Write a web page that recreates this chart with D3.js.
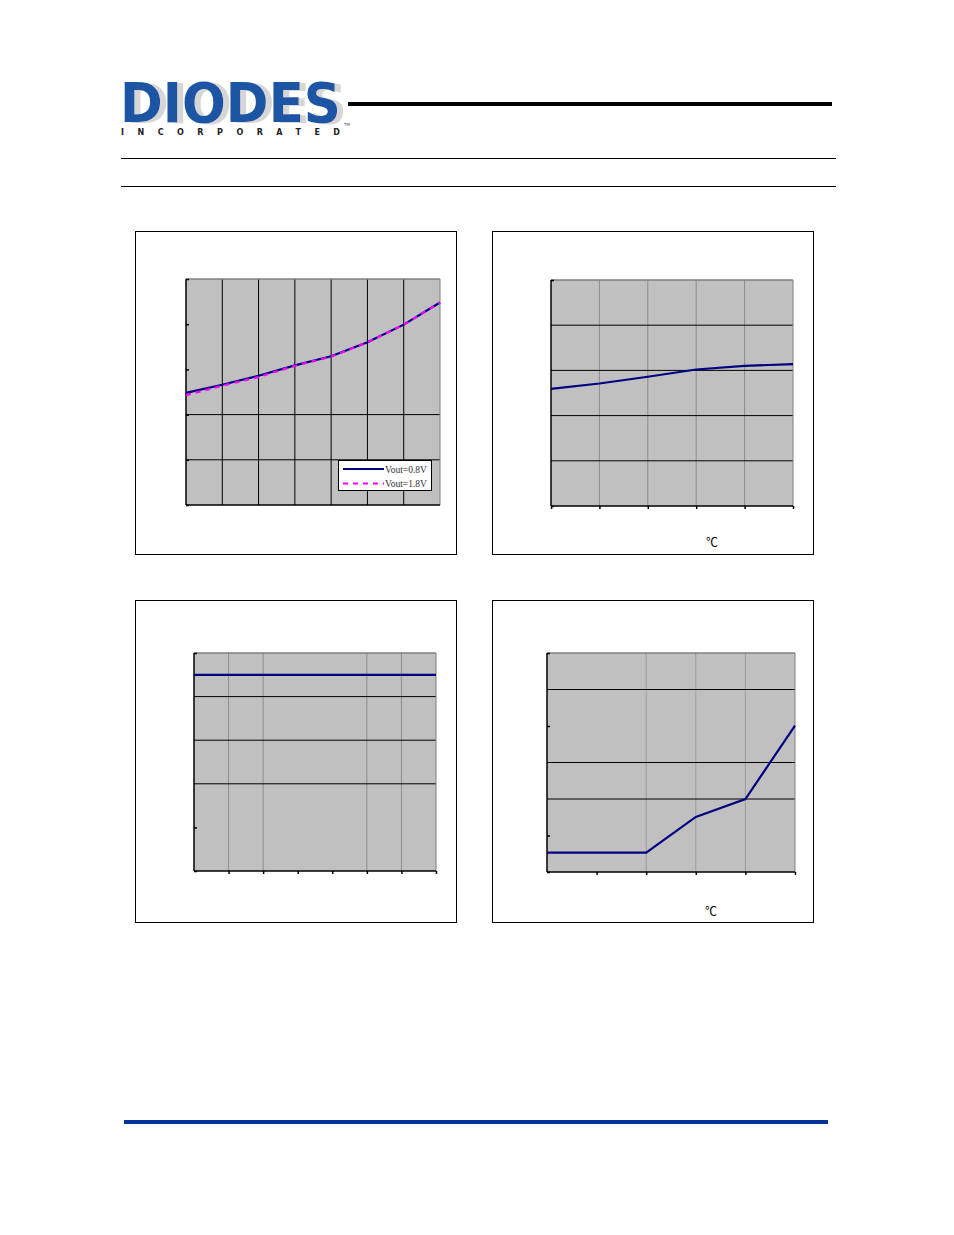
<!DOCTYPE html>
<html><head><meta charset="utf-8">
<script src="https://cdn.jsdelivr.net/npm/d3@7"></script>
<style>body{margin:0;background:#fff}svg{display:block}</style>
</head><body>
<script>
// ---- data (units are relative; the reference shows no tick labels) ----
const c1X = [0,1,2,3,4,5,6,7];
const c1Vout08 = [2.48,2.66,2.86,3.09,3.29,3.60,3.99,4.48];
const c1Vout18 = [2.43,2.64,2.83,3.08,3.28,3.60,3.99,4.48];
const c1Legend = ["Vout=0.8V","Vout=1.8V"];
const c2X = [0,1,2,3,4,5];
const c2Y = [2.59,2.71,2.86,3.02,3.10,3.14];
const c3X = [0,1,2,3,4,5,6,7];
const c3Y = [4.5,4.5,4.5,4.5,4.5,4.5,4.5,4.5];
const c4X = [0,1,2,3,4,5];
const c4Y = [0.53,0.53,0.53,1.51,2.0,4.01];
const unitLabel = "\u2103";

const W=954,H=1235;
const svg=d3.select("body").append("svg").attr("width",W).attr("height",H);

// ---- header ----
const defs=svg.append("defs");
const f=defs.append("filter").attr("id","sh").attr("x","-5%").attr("y","-10%").attr("width","115%").attr("height","130%");
f.append("feOffset").attr("in","SourceAlpha").attr("dx",6).attr("dy",1).attr("result","o");
f.append("feFlood").attr("flood-color","#d6d6d6").attr("result","c");
f.append("feComposite").attr("in","c").attr("in2","o").attr("operator","in").attr("result","s");
const fm=f.append("feMerge");
fm.append("feMergeNode").attr("in","s");
fm.append("feMergeNode").attr("in","SourceGraphic");

const logo=svg.append("g");
logo.append("text").attr("x",120).attr("y",122).text("DIODES")
  .attr("font-family","DejaVu Sans").attr("font-weight","bold").attr("font-size",56)
  .attr("fill","#1f54a3").attr("textLength",221).attr("lengthAdjust","spacingAndGlyphs")
  .attr("filter","url(#sh)");
logo.append("text").attr("x",121).attr("y",135).text("INCORPORATED")
  .attr("font-family","DejaVu Sans").attr("font-weight","bold").attr("font-size",8).attr("fill","#222")
  .attr("textLength",219).attr("lengthAdjust","spacing");
logo.append("text").attr("x",344).attr("y",126).text("TM").attr("font-family","DejaVu Sans")
  .attr("font-size",4).attr("fill","#555");
svg.append("rect").attr("x",348).attr("y",102).attr("width",484).attr("height",4).attr("fill","#000");
svg.append("line").attr("x1",121).attr("x2",836).attr("y1",158.5).attr("y2",158.5).attr("stroke","#000");
svg.append("line").attr("x1",121).attr("x2",836).attr("y1",186.5).attr("y2",186.5).attr("stroke","#000");
svg.append("rect").attr("x",124).attr("y",1120).attr("width",704).attr("height",4).attr("fill","#003399");

// ---- chart helper ----
function chart(o){
  const g=svg.append("g");
  g.append("rect").attr("x",o.box[0]+0.5).attr("y",o.box[1]+0.5).attr("width",o.box[2]).attr("height",o.box[3])
    .attr("fill","#fff").attr("stroke","#000");
  const x=d3.scaleLinear().domain(o.xd).range([o.l,o.r]);
  const y=d3.scaleLinear().domain(o.yd).range([o.b,o.t]);
  g.append("rect").attr("x",o.l).attr("y",o.t).attr("width",o.r-o.l).attr("height",o.b-o.t).attr("fill","#c0c0c0");
  o.vgrid.forEach(v=>g.append("line").attr("x1",x(v)).attr("x2",x(v)).attr("y1",o.t).attr("y2",o.b)
    .attr("stroke",o.vcol).attr("stroke-width",1));
  o.hgrid.forEach(v=>g.append("line").attr("x1",o.l).attr("x2",o.r).attr("y1",y(v)).attr("y2",y(v))
    .attr("stroke","#000").attr("stroke-width",1));
  g.append("line").attr("x1",o.l).attr("x2",o.r).attr("y1",o.t).attr("y2",o.t).attr("stroke","#808080").attr("stroke-width",1.5);
  g.append("line").attr("x1",o.r).attr("x2",o.r).attr("y1",o.t).attr("y2",o.b).attr("stroke",o.rcol||"#808080").attr("stroke-width",1);
  const ya=d3.axisLeft(y).tickValues(o.yticks).tickSize(-3).tickFormat("");
  const ax=g.append("g").attr("transform",`translate(${o.l},0)`).call(ya);
  ax.selectAll("path,line").attr("stroke","#000").attr("stroke-width",1.5);
  ax.select("path").attr("d",`M0,${o.t}V${o.b}`);
  const xa=d3.axisBottom(x).tickValues(o.xticks).tickSize(o.xtick).tickFormat("");
  const bx=g.append("g").attr("transform",`translate(0,${o.b})`).call(xa);
  bx.selectAll("path,line").attr("stroke","#000").attr("stroke-width",1.5);
  bx.select("path").attr("d",`M${o.l},0H${o.r}`);
  o.series.forEach(s=>{
    g.append("path").datum(s.ys.map((v,i)=>[o.xs[i],v]))
      .attr("d",d3.line().x(d=>x(d[0])).y(d=>y(d[1])))
      .attr("fill","none").attr("stroke",s.color).attr("stroke-width",2.2)
      .attr("stroke-dasharray",s.dash||null);
  });
  return {g,x,y};
}

const c1=chart({box:[135,231,321,323],l:186,r:440,t:279,b:505,xd:[0,7],yd:[0,5],
  vgrid:[1,2,3,4,5,6],vcol:"#000",rcol:"#808080",hgrid:[1,2],yticks:[0,1,2,3,4,5],xticks:[],xtick:0,
  xs:c1X,series:[{ys:c1Vout08,color:"#000080"},{ys:c1Vout18,color:"#ff00ff",dash:"5,5"}]});
const lg=c1.g.append("g");
lg.append("rect").attr("x",338.5).attr("y",460.5).attr("width",93).attr("height",30).attr("fill","#fff").attr("stroke","#000");
lg.append("line").attr("x1",343).attr("x2",384).attr("y1",469).attr("y2",469).attr("stroke","#000080").attr("stroke-width",2);
lg.append("line").attr("x1",343).attr("x2",384).attr("y1",483.5).attr("y2",483.5).attr("stroke","#ff00ff").attr("stroke-width",2).attr("stroke-dasharray","5,5");
c1Legend.forEach((t,i)=>lg.append("text").attr("x",385).attr("y",472.5+i*14.5).text(t)
  .attr("font-family","Liberation Serif").attr("font-size",9.5).attr("fill","#333"));

const c2=chart({box:[492,231,321,323],l:551,r:793,t:280,b:506,xd:[0,5],yd:[0,5],
  vgrid:[1,2,3,4],vcol:"#8c8c8c",hgrid:[1,2,3,4],yticks:[0,5],xticks:[0,1,2,3,4,5],xtick:3,
  xs:c2X,series:[{ys:c2Y,color:"#000080"}]});
c2.g.append("text").attr("x",706).attr("y",547).text(unitLabel).attr("font-family","Noto Sans CJK SC")
  .attr("font-size",12).attr("fill","#000");

const c3=chart({box:[135,600,321,322],l:194,r:436,t:653,b:871,xd:[0,7],yd:[0,5],
  vgrid:[1,2,5,6],vcol:"#8c8c8c",hgrid:[2,3,4],yticks:[0,1,5],xticks:[1,2,3,4,5,6,7],xtick:3,
  xs:c3X,series:[{ys:c3Y,color:"#000080"}]});

const c4=chart({box:[492,600,321,322],l:547,r:795,t:653,b:872,xd:[0,5],yd:[0,6],
  vgrid:[2,3,4],vcol:"#9a9a9a",hgrid:[2,3,5],yticks:[0,1,4,6],xticks:[1,2,3,4,5],xtick:3,
  xs:c4X,series:[{ys:c4Y,color:"#000080"}]});
c4.g.append("text").attr("x",705).attr("y",916).text(unitLabel).attr("font-family","Noto Sans CJK SC")
  .attr("font-size",12).attr("fill","#000");
</script>
</body></html>
